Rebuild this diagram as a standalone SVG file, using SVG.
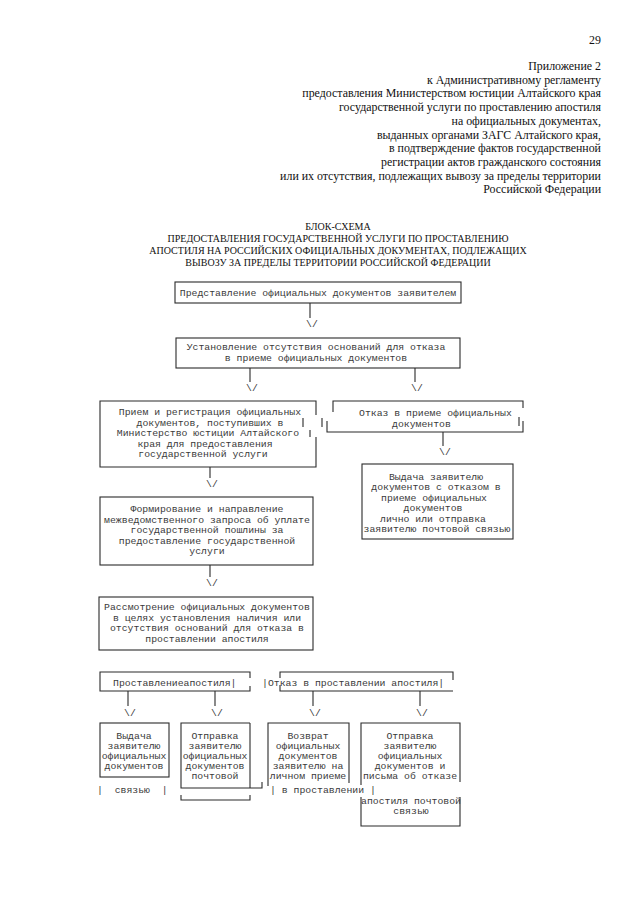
<svg xmlns="http://www.w3.org/2000/svg" width="640" height="905" viewBox="0 0 640 905">
<style>
.hdr{font-family:"Liberation Serif","Times New Roman",serif;font-size:11.9px;fill:#111}
.ttl{font-family:"Liberation Serif","Times New Roman",serif;font-size:10px;fill:#111}
.t{font-family:"Liberation Mono","Courier New",monospace;font-size:9.8px;fill:#3a3a3a}
.c{text-anchor:middle}
.b{fill:none;stroke:#2a2a2a;stroke-width:1.1}
.ln{stroke:#2a2a2a;stroke-width:1.1;fill:none}
</style>
<rect width="640" height="905" fill="#fff"/>
<g id="header">
<text class="hdr" x="601" y="44" text-anchor="end">29</text>
<text class="hdr" x="601" y="70" text-anchor="end">Приложение 2</text>
<text class="hdr" x="601" y="83.7" text-anchor="end">к Административному регламенту</text>
<text class="hdr" x="601" y="97.4" text-anchor="end">предоставления Министерством юстиции Алтайского края</text>
<text class="hdr" x="601" y="111.1" text-anchor="end">государственной услуги по проставлению апостиля</text>
<text class="hdr" x="601" y="124.8" text-anchor="end">на официальных документах,</text>
<text class="hdr" x="601" y="138.5" text-anchor="end">выданных органами ЗАГС Алтайского края,</text>
<text class="hdr" x="601" y="152.2" text-anchor="end">в подтверждение фактов государственной</text>
<text class="hdr" x="601" y="165.9" text-anchor="end">регистрации актов гражданского состояния</text>
<text class="hdr" x="601" y="179.6" text-anchor="end">или их отсутствия, подлежащих вывозу за пределы территории</text>
<text class="hdr" x="601" y="193.3" text-anchor="end">Российской Федерации</text>
</g>
<g id="title">
<text class="ttl c" x="338" y="230">БЛОК-СХЕМА</text>
<text class="ttl c" x="338" y="242">ПРЕДОСТАВЛЕНИЯ ГОСУДАРСТВЕННОЙ УСЛУГИ ПО ПРОСТАВЛЕНИЮ</text>
<text class="ttl c" x="338" y="254">АПОСТИЛЯ НА РОССИЙСКИХ ОФИЦИАЛЬНЫХ ДОКУМЕНТАХ, ПОДЛЕЖАЩИХ</text>
<text class="ttl c" x="338" y="266">ВЫВОЗУ ЗА ПРЕДЕЛЫ ТЕРРИТОРИИ РОССИЙСКОЙ ФЕДЕРАЦИИ</text>
</g>
<g id="n1">
<rect class="b" x="175" y="282" width="286" height="21"/>
<text class="t c" x="318" y="295.5">Представление официальных документов заявителем</text>
</g>
<g id="n2">
<rect class="b" x="176" y="338" width="284" height="30"/>
<text class="t c" x="316" y="350">Установление отсутствия оснований для отказа</text>
<text class="t c" x="316" y="361">в приеме официальных документов</text>
</g>
<g id="n3">
<path class="b" d="M316,415 V401 H100 V467 H316 V437"/>
<path class="ln" d="M303,418 V427 M322,418 V427 M310,430 V437"/>
<text class="t c" x="210" y="415">Прием и регистрация официальных</text>
<text class="t c" x="210" y="425.5">документов, поступивших в</text>
<text class="t c" x="208" y="436">Министерство юстиции Алтайского</text>
<text class="t c" x="205" y="446.5">края для предоставления</text>
<text class="t c" x="203" y="457">государственной услуги</text>
</g>
<g id="n4">
<path class="b" d="M333,412 V401 H523 V408"/>
<path class="b" d="M327,421 V432 H523 V421"/>
<path class="ln" d="M519,417 V426"/>
<text class="t" x="359" y="416">Отказ в приеме официальных</text>
<text class="t" x="392" y="426.5">документов</text>
</g>
<g id="n5">
<rect class="b" x="362" y="464" width="151" height="75"/>
<text class="t c" x="436" y="479.5">Выдача заявителю</text>
<text class="t c" x="436" y="490">документов с отказом в</text>
<text class="t c" x="434" y="500.5">приеме официальных</text>
<text class="t c" x="433" y="511">документов</text>
<text class="t c" x="433" y="521.5">лично или отправка</text>
<text class="t c" x="437" y="532">заявителю почтовой связью</text>
</g>
<g id="n6">
<rect class="b" x="100" y="497" width="213" height="68"/>
<text class="t c" x="207" y="512">Формирование и направление</text>
<text class="t c" x="207" y="522.5">межведомственного запроса об уплате</text>
<text class="t c" x="207" y="533">государственной пошлины за</text>
<text class="t c" x="207" y="543.5">предоставление государственной</text>
<text class="t c" x="207" y="554">услуги</text>
</g>
<g id="n7">
<rect class="b" x="99" y="597" width="214" height="53"/>
<text class="t c" x="207" y="610">Рассмотрение официальных документов</text>
<text class="t c" x="207" y="620.5">в целях установления наличия или</text>
<text class="t c" x="207" y="631">отсутствия оснований для отказа в</text>
<text class="t c" x="207" y="641.5">проставлении апостиля</text>
</g>
<g id="n8">
<path class="b" d="M250,678 V672 H100 V691 H250 V686"/>
<text class="t" x="113" y="686">Проставлениеапостиля|</text>
</g>
<g id="n9">
<path class="b" d="M280,678 V672 H453 V680"/>
<path class="b" d="M280,685 V691 H453"/>
<text class="t" x="262" y="686">|Отказ в проставлении апостиля|</text>
</g>
<g id="n10">
<rect class="b" x="100" y="723" width="69" height="54"/>
<text class="t c" x="134" y="739">Выдача</text>
<text class="t c" x="134" y="749">заявителю</text>
<text class="t c" x="134" y="759">официальных</text>
<text class="t c" x="134" y="768.5">документов</text>
<text class="t" x="97" y="793" xml:space="preserve">|  связью  |</text>
</g>
<g id="n11">
<path class="b" d="M250,723 H181 V788 H262 V782"/>
<path class="b" d="M250,723 V788"/>
<path class="b" d="M181,795 V800 H250 V795"/>
<text class="t c" x="215" y="739">Отправка</text>
<text class="t c" x="215" y="749">заявителю</text>
<text class="t c" x="215" y="759">официальных</text>
<text class="t c" x="215" y="768.5">документов</text>
<text class="t c" x="215" y="778.5">почтовой</text>
</g>
<g id="n12">
<path class="b" d="M268,786 V723 H349 V783"/>
<text class="t c" x="308" y="739">Возврат</text>
<text class="t c" x="308" y="749">официальных</text>
<text class="t c" x="308" y="759">документов</text>
<text class="t c" x="308" y="768.5">заявителю на</text>
<text class="t c" x="308" y="778.5">личном приеме</text>
<text class="t" x="270" y="793" xml:space="preserve">| в проставлении |</text>
</g>
<g id="n13">
<path class="b" d="M361,785 V723 H460 V782"/>
<path class="b" d="M361,797 V826 H460 V797"/>
<text class="t c" x="410" y="739">Отправка</text>
<text class="t c" x="410" y="749">заявителю</text>
<text class="t c" x="410" y="759">официальных</text>
<text class="t c" x="410" y="768.5">документов и</text>
<text class="t c" x="410" y="778.5">письма об отказе</text>
<text class="t c" x="411" y="804">апостиля почтовой</text>
<text class="t c" x="411" y="814">связью</text>
</g>
<g id="connectors">
<path class="ln" d="M310,303 V318 M250,368 V382 M415,368 V382 M443,432 V446 M210,467 V478 M210,565 V577 M128,691 V706 M215,691 V706 M313,691 V706 M420,691 V706"/>
<text class="t c" x="312" y="327">\/</text>
<text class="t c" x="252" y="391">\/</text>
<text class="t c" x="417" y="391">\/</text>
<text class="t c" x="445" y="455">\/</text>
<text class="t c" x="212" y="487">\/</text>
<text class="t c" x="212" y="586">\/</text>
<text class="t c" x="130" y="716">\/</text>
<text class="t c" x="217" y="716">\/</text>
<text class="t c" x="315" y="716">\/</text>
<text class="t c" x="422" y="716">\/</text>
</g>
</svg>
